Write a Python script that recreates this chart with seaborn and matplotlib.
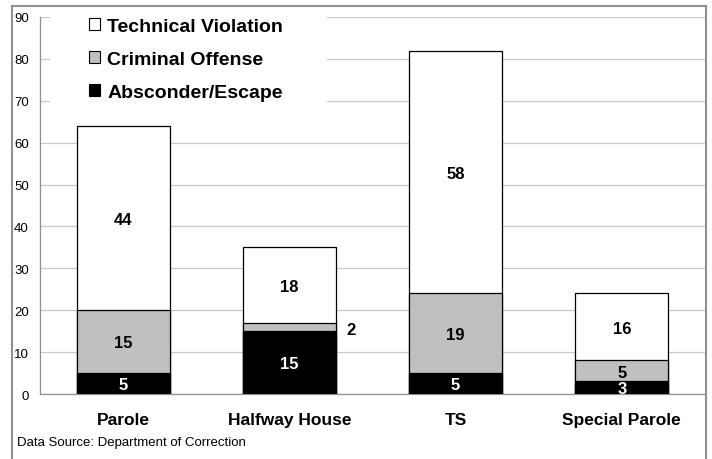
import numpy as np
import pandas as pd
import seaborn as sns
import matplotlib.pyplot as plt
from matplotlib.patches import Patch, Rectangle

# Chart data
categories = ["Parole", "Halfway House", "TS", "Special Parole"]
absconder = [5, 15, 5, 3]
criminal = [15, 2, 19, 5]
technical = [44, 18, 58, 16]

df = pd.DataFrame({
    "category": categories,
    "absconder": absconder,
    "criminal": criminal,
    "technical": technical,
})
df["low"] = df["absconder"]
df["mid"] = df["absconder"] + df["criminal"]
df["total"] = df["mid"] + df["technical"]

sns.set_style("white")
plt.rcParams["font.family"] = ["Liberation Sans", "DejaVu Sans"]
plt.rcParams.update({"text.color": "black", "xtick.color": "black",
                     "ytick.color": "black", "axes.labelcolor": "black"})

fig = plt.figure(figsize=(7.12, 4.6), dpi=100)
ax = fig.add_axes([40 / 712, 1 - 395 / 460, 665 / 712, 377 / 460])

# Stacked bars drawn from the tallest cumulative layer down
bar_w = 0.56
sns.barplot(data=df, x="category", y="total", color="white", edgecolor="black",
            linewidth=0.9, width=bar_w, saturation=1, ax=ax, zorder=3)
sns.barplot(data=df, x="category", y="mid", color="#c0c0c0", edgecolor="black",
            linewidth=0.9, width=bar_w, saturation=1, ax=ax, zorder=3)
sns.barplot(data=df, x="category", y="low", color="black", edgecolor="black",
            linewidth=0.9, width=bar_w, saturation=1, ax=ax, zorder=3)

# Value labels
lbl = dict(ha="center", va="center", fontsize=12, fontweight="bold", zorder=5)
for i, row in df.iterrows():
    ax.text(i, row["low"] / 2 - 0.3, str(row["absconder"]), color="white", **lbl)
    if row["criminal"] >= 5:
        ax.text(i, row["low"] + row["criminal"] / 2 - 0.3, str(row["criminal"]), color="black", **lbl)
    else:
        ax.text(i + bar_w / 2 + 0.09, row["low"] + row["criminal"] / 2 - 0.6, str(row["criminal"]), color="black", **lbl)
    ax.text(i, row["mid"] + row["technical"] / 2 - 0.3, str(row["technical"]), color="black", **lbl)

ax.set_xlim(-0.5, len(categories) - 0.5)
ax.set_ylim(0, 90)
ax.set_yticks(np.arange(0, 91, 10))
ax.yaxis.grid(True, color="#c8c8c8", linewidth=0.9, zorder=0)
ax.set_axisbelow(True)
ax.set_xlabel("")
ax.set_ylabel("")

# Category ticks between bars, labels centered under bars
ax.set_xticks(np.arange(-0.5, len(categories), 1.0))
ax.set_xticklabels([])
ax.set_xticks(np.arange(len(categories)), minor=True)
ax.set_xticklabels(categories, minor=True, fontsize=12.5, fontweight="bold")
ax.tick_params(axis="x", which="major", length=7, color="#909090", width=0.9, direction="out")
ax.tick_params(axis="x", which="minor", length=0, pad=13)
ax.tick_params(axis="y", length=5, color="#909090", width=0.9, direction="out",
               labelsize=9.5, pad=3)

for side in ["top", "right"]:
    ax.spines[side].set_visible(False)
for side in ["left", "bottom"]:
    ax.spines[side].set_color("#909090")
    ax.spines[side].set_linewidth(0.9)

# White block behind the legend hides the gridlines there
ax.add_patch(Rectangle((10 / 665, 0.77), 277 / 665, 0.26, transform=ax.transAxes,
                       facecolor="white", edgecolor="none", zorder=4, clip_on=False))

# Legend
handles = [
    Patch(facecolor="white", edgecolor="black", linewidth=0.8, label="Technical Violation"),
    Patch(facecolor="#c0c0c0", edgecolor="black", linewidth=0.8, label="Criminal Offense"),
    Patch(facecolor="black", edgecolor="black", linewidth=0.8, label="Absconder/Escape"),
]
leg = ax.legend(handles=handles, loc="upper left", bbox_to_anchor=(89 / 712, 1 - 19 / 460),
                bbox_transform=fig.transFigure, frameon=False,
                handlelength=0.57, handleheight=0.57, handletextpad=0.36,
                labelspacing=0.82, borderpad=0.0, borderaxespad=0.0,
                prop={"size": 14, "weight": "bold"})
leg.set_zorder(6)

# Source note and outer border
fig.text(17 / 712, 1 - 443 / 460, "Data Source: Department of Correction",
         fontsize=9.5, ha="left", va="center")
fig.patches.append(Rectangle((12 / 712, -0.02), 694 / 712, 1 - 7 / 460 + 0.02,
                             transform=fig.transFigure, fill=False,
                             edgecolor="#909090", linewidth=1.5))

fig.savefig("out.png", dpi=100)
